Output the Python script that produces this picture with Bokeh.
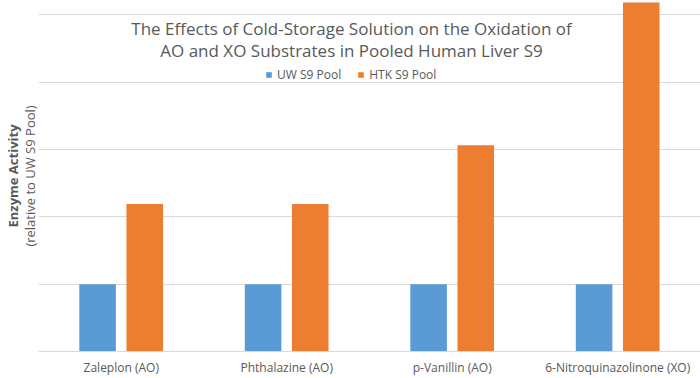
from bokeh.plotting import figure
from bokeh.models import (ColumnDataSource, FactorRange, FixedTicker, Label,
                          Legend, LegendItem, LinearAxis)
from bokeh.transform import dodge
from bokeh.embed import file_html
from bokeh.resources import INLINE

# ---- data ----
categories = ["Zaleplon (AO)", "Phthalazine (AO)", "p-Vanillin (AO)",
              "6-Nitroquinazolinone (XO)"]
uw_values = [1.0, 1.0, 1.0, 1.0]
htk_values = [2.19, 2.19, 3.06, 5.18]
series_names = ["UW S9 Pool", "HTK S9 Pool"]
grid_ticks = [1, 2, 3, 4, 5]

title_lines = ["The Effects of Cold-Storage Solution on the Oxidation of",
               "AO and XO Substrates in Pooled Human Liver S9"]
ylabel_bold = "Enzyme Activity"
ylabel_norm = "(relative to UW S9 Pool)"

FONT = "Open Sans"
GRAY = "#595959"
GRID = "#d9d9d9"
BLUE = "#5b9bd5"
ORANGE = "#ed7d31"
YMAX = 5.21

src = ColumnDataSource(dict(cat=categories, uw=uw_values, htk=htk_values))

p = figure(width=700, height=378, x_range=FactorRange(*categories, range_padding=0),
           y_range=(0, YMAX), output_backend="svg", toolbar_location=None,
           min_border_left=0, min_border_right=0, min_border_top=0,
           min_border_bottom=0)
p.outline_line_color = None
p.background_fill_color = "white"

r1 = p.vbar(x=dodge("cat", -0.143, range=p.x_range), top="uw", width=0.221,
            source=src, fill_color=BLUE, line_color=None)
r2 = p.vbar(x=dodge("cat", 0.142, range=p.x_range), top="htk", width=0.221,
            source=src, fill_color=ORANGE, line_color=None)

# grid
p.xgrid.visible = False
p.ygrid.ticker = FixedTicker(ticks=grid_ticks)
p.ygrid.grid_line_color = GRID
p.ygrid.grid_line_width = 1


def label_only_axis(ax, text, bold, size, standoff):
    ax.ticker = FixedTicker(ticks=[])
    ax.axis_line_color = None
    ax.major_tick_line_color = None
    ax.minor_tick_line_color = None
    ax.major_tick_out = 0
    ax.major_tick_in = 0
    ax.minor_tick_out = 0
    ax.major_label_standoff = 0
    ax.axis_label = text
    ax.axis_label_text_font = FONT
    ax.axis_label_text_font_size = size
    ax.axis_label_text_color = GRAY
    ax.axis_label_text_font_style = "bold" if bold else "normal"
    ax.axis_label_standoff = standoff


label_only_axis(p.yaxis[0], ylabel_norm, False, "13px", 0)
outer = LinearAxis()
label_only_axis(outer, ylabel_bold, True, "13px", -4)
p.add_layout(outer, "left")

xa = p.xaxis[0]
xa.axis_line_color = GRID
xa.major_tick_line_color = None
xa.minor_tick_line_color = None
xa.major_tick_out = 0
xa.major_tick_in = 0
xa.axis_label_standoff = 0
xa.major_label_text_font = FONT
xa.major_label_text_font_size = "12px"
xa.major_label_text_color = GRAY
xa.major_label_standoff = 7

# title (inside the plot area)
for txt, dy in zip(title_lines, [28, 50]):
    p.add_layout(Label(x=313, y=YMAX - dy / 67.7, x_units="screen",
                       text=txt, text_font=FONT, text_font_size="17px",
                       text_color=GRAY, text_align="center",
                       text_baseline="middle"))

legend = Legend(items=[LegendItem(label=series_names[0], renderers=[r1]),
                       LegendItem(label=series_names[1], renderers=[r2])],
                location=(227, 268), orientation="horizontal")
legend.border_line_color = None
legend.background_fill_alpha = 0
legend.padding = 0
legend.margin = 0
legend.spacing = 16
legend.label_standoff = 5
legend.glyph_width = 7
legend.glyph_height = 7
legend.label_text_font = FONT
legend.label_text_font_size = "12px"
legend.label_text_color = GRAY
legend.label_height = 16
legend.label_text_baseline = "middle"
p.add_layout(legend)

open("out.html", "w").write(file_html(p, INLINE))
